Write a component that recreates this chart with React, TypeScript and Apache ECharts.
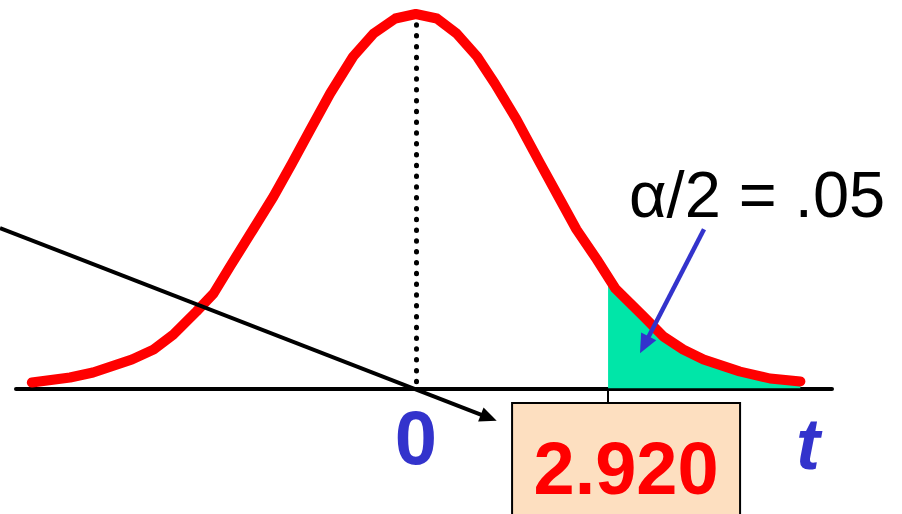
import React, { useEffect, useRef } from "react";
import * as echarts from "echarts";

// t values (x) and density heights (y)
const curveT = [
  -5.83, -5.25, -4.9, -4.31, -3.98, -3.68, -3.33, -3.07, -2.82, -2.47, -2.16, -1.88,
  -1.6, -1.3, -0.95, -0.64, -0.31, 0, 0.32, 0.62, 0.93, 1.2, 1.53, 1.89, 2.19, 2.44,
  2.75, 3.03, 3.46, 3.76, 4.06, 4.37, 4.92, 5.38, 5.84,
];
const curveDensity = [
  0.006, 0.011, 0.016, 0.029, 0.039, 0.054, 0.077, 0.095, 0.122, 0.159, 0.192, 0.225,
  0.259, 0.295, 0.332, 0.355, 0.37, 0.3745, 0.37, 0.355, 0.332, 0.305, 0.269, 0.225,
  0.189, 0.159, 0.129, 0.1, 0.072, 0.052, 0.039, 0.029, 0.017, 0.01, 0.007,
];
const criticalT = 2.92;
const criticalDensity = 0.111;
const centerTick = [0];
const alphaHalfLabel = "α/2 = .05";
const axisName = "t";

const FONT = "'Liberation Sans', Arial, Helvetica, sans-serif";
const BLUE = "#3333CC";

function arrow(
  x1: number,
  y1: number,
  x2: number,
  y2: number,
  color: string,
  width: number,
  headLen: number,
  headHalf: number
) {
  const dx = x2 - x1;
  const dy = y2 - y1;
  const L = Math.sqrt(dx * dx + dy * dy);
  const ux = dx / L;
  const uy = dy / L;
  const bx = x2 - ux * headLen;
  const by = y2 - uy * headLen;
  const px = -uy;
  const py = ux;
  return [
    {
      type: "line",
      shape: { x1, y1, x2: bx + ux * 2, y2: by + uy * 2 },
      style: { stroke: color, lineWidth: width },
      z: 100,
    },
    {
      type: "polygon",
      shape: {
        points: [
          [x2, y2],
          [bx + px * headHalf, by + py * headHalf],
          [bx - px * headHalf, by - py * headHalf],
        ],
      },
      style: { fill: color },
      z: 100,
    },
  ];
}

export default function App() {
  const ref = useRef<HTMLDivElement>(null);

  useEffect(() => {
    if (!ref.current) return;
    const chart = echarts.init(ref.current, undefined, { renderer: "svg" });

    const curve = curveT.map((t, i) => [t, curveDensity[i]]);
    const tail = [[criticalT, criticalDensity]].concat(
      curveT.map((t, i) => [t, curveDensity[i]]).filter((p) => p[0] > criticalT)
    );

    chart.setOption({
      animation: false,
      grid: { left: 16, right: 70, top: 0, bottom: 125.5, outerBoundsMode: "none" },
      xAxis: {
        type: "value",
        min: -6.07,
        max: 6.32,
        axisLine: { show: true, onZero: true, lineStyle: { color: "#000", width: 4 } },
        axisTick: {
          show: true,
          customValues: [criticalT],
          length: 15,
          lineStyle: { color: "#000", width: 2 },
        },
        axisLabel: {
          show: true,
          customValues: centerTick,
          margin: 11,
          formatter: (v: number) => String(v),
          color: BLUE,
          fontSize: 76,
          fontWeight: "bold",
          fontFamily: FONT,
          lineHeight: 76,
        },
        splitLine: { show: false },
        name: axisName,
        nameLocation: "end",
        nameGap: -24,
        nameTextStyle: {
          color: BLUE,
          fontSize: 72,
          fontWeight: "bold",
          fontStyle: "italic",
          fontFamily: FONT,
          align: "center",
          verticalAlign: "top",
          lineHeight: 72,
          padding: [19, 0, 0, 0],
        },
      },
      yAxis: {
        type: "value",
        min: 0,
        max: 0.3885,
        show: false,
        splitLine: { show: false },
      },
      series: [
        {
          type: "line",
          data: tail,
          symbol: "none",
          lineStyle: { width: 0 },
          areaStyle: { color: "#00E6A8", opacity: 1 },
          z: 1,
          silent: true,
        },
        {
          type: "line",
          data: curve,
          symbol: "none",
          smooth: false,
          lineStyle: { color: "#FF0000", width: 10, cap: "round", join: "round" },
          z: 3,
          silent: true,
          markLine: {
            silent: true,
            symbol: ["none", "none"],
            label: { show: false },
            lineStyle: { color: "#000", width: 5, type: [0.5, 10.3], cap: "round" },
            data: [[{ coord: [0, 0.0068] }, { coord: [0, 0.3675] }]],
          },
          markPoint: {
            silent: true,
            symbol: "rect",
            symbolSize: 0,
            data: [{ coord: [criticalT, 0], value: criticalT }],
            label: {
              show: true,
              position: "inside",
              offset: [18, 79.5],
              formatter: () => criticalT.toFixed(3),
              color: "#FF0000",
              fontSize: 74,
              fontWeight: "bold",
              fontFamily: FONT,
              lineHeight: 80,
              width: 226,
              align: "center",
              backgroundColor: "#FDDFC0",
              borderColor: "#000",
              borderWidth: 2,
              padding: [18, 0, 30, 0],
            },
          },
        },
      ],
      graphic: [
        ...arrow(0, 228, 496.7, 420.7, "#000", 4, 17, 7.5),
        ...arrow(704, 229.3, 640, 353.3, BLUE, 4.5, 19, 8.5),
        {
          type: "text",
          x: 629,
          y: 194.5,
          z: 100,
          style: {
            text: alphaHalfLabel,
            fill: "#000",
            font: `65px ${FONT}`,
            align: "left",
            verticalAlign: "middle",
          },
        },
      ],
    });

    return () => chart.dispose();
  }, []);

  return (
    <div
      ref={ref}
      style={{ position: "fixed", left: 0, top: 0, width: 902, height: 514, background: "#fff" }}
    />
  );
}
